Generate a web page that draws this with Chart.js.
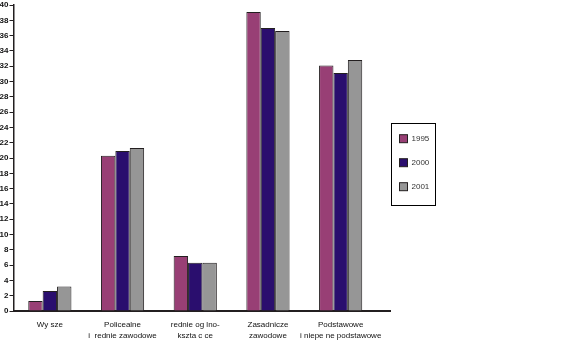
<!DOCTYPE html>
<html><head><meta charset="utf-8">
<script src="https://cdn.jsdelivr.net/npm/chart.js@4/dist/chart.umd.min.js"></script>
<style>html,body{margin:0;padding:0;background:#fff;overflow:hidden}</style>
</head><body><canvas id="c" width="566" height="343"></canvas>
<script>
const categories = [["Wy sze"], ["Policealne", "i  rednie zawodowe"], ["rednie og lno-", "kszta c ce"], ["Zasadnicze", "zawodowe"], ["Podstawowe", "i niepe ne podstawowe"]];
const seriesNames = ["1995", "2000", "2001"];
const values1995 = [1.3, 20.3, 7.2, 39.1, 32.1];
const values2000 = [2.6, 20.9, 6.3, 37.0, 31.1];
const values2001 = [3.2, 21.3, 6.3, 36.6, 32.8];
const yTickValues = [0, 2, 4, 6, 8, 10, 12, 14, 16, 18, 20, 22, 24, 26, 28, 30, 32, 34, 36, 38, 40];

const colors = ["#983f75", "#2a0e6e", "#969696"];
const edge = "#231f20";
const allValues = [values1995, values2000, values2001];

const extras = {
  id: "extras",
  afterDraw(chart) {
    const ctx = chart.ctx;
    const ca = chart.chartArea;
    const y0 = chart.scales.y.getPixelForValue(0);
    ctx.save();
    ctx.strokeStyle = edge;
    ctx.lineWidth = 2;
    ctx.beginPath();
    ctx.moveTo(ca.right - 1, y0);
    ctx.lineTo(ca.right + 14, y0);
    ctx.stroke();
    // legend
    ctx.lineWidth = 1;
    ctx.strokeStyle = "#000";
    ctx.strokeRect(391.5, 123.5, 44, 82);
    ctx.font = "8px 'Liberation Sans', Arial, sans-serif";
    ctx.textBaseline = "middle";
    chart.data.datasets.forEach((ds, i) => {
      const cy = 138.7 + i * 24;
      ctx.fillStyle = ds.backgroundColor;
      ctx.fillRect(399.5, cy - 4, 8, 8);
      ctx.strokeStyle = edge;
      ctx.strokeRect(399.5, cy - 4, 8, 8);
      ctx.fillStyle = "#333";
      ctx.fillText(ds.label, 411.5, cy + 0.5);
    });
    ctx.restore();
  }
};

new Chart(document.getElementById("c"), {
  type: "bar",
  data: {
    labels: categories,
    datasets: seriesNames.map((n, i) => ({
      label: n,
      data: allValues[i],
      backgroundColor: colors[i],
      borderColor: edge,
      borderWidth: 1,
      categoryPercentage: 0.594,
      barPercentage: 1
    }))
  },
  options: {
    responsive: false,
    devicePixelRatio: 1,
    animation: false,
    layout: { padding: { left: 0, right: 189, top: 0, bottom: 0 } },
    plugins: { legend: { display: false }, tooltip: { enabled: false } },
    scales: {
      x: {
        grid: { display: false, drawTicks: false },
        border: { display: true, color: edge, width: 2 },
        ticks: {
          padding: 8,
          maxRotation: 0,
          autoSkip: false,
          color: "#111",
          font: { family: "'Liberation Sans', Arial, sans-serif", size: 8, lineHeight: 1.4 }
        },
        afterFit(s) { s.height = 32; }
      },
      y: {
        min: 0, max: 40,
        afterBuildTicks(s) { s.ticks = yTickValues.map(v => ({ value: v })); },
        grid: { display: true, drawOnChartArea: false, drawTicks: true, tickLength: 4, color: edge, lineWidth: 1 },
        border: { display: true, color: edge, width: 1.5 },
        ticks: {
          padding: 1,
          color: "#111",
          font: { family: "'Liberation Sans Narrow', 'Liberation Sans', Arial, sans-serif", size: 8, weight: "bold", lineHeight: 1 }
        },
        afterFit(s) { s.width = 13.5; }
      }
    }
  },
  plugins: [extras]
});
</script>
</body></html>
